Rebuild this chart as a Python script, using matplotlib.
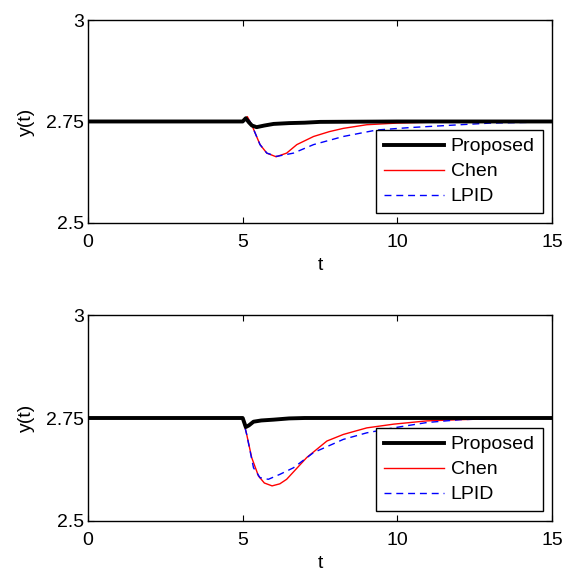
import matplotlib
matplotlib.use('Agg')
import matplotlib.pyplot as plt

plt.rcParams['font.family'] = ['Liberation Sans', 'DejaVu Sans']

# valores (t, y) - caso 1 (arriba)
t_prop_1 = [0, 5.0, 5.1, 5.2, 5.3, 5.45, 5.7, 6.0, 6.5, 7.0, 7.5, 10, 15]
y_prop_1 = [2.75, 2.75, 2.758, 2.748, 2.740, 2.736, 2.740, 2.744, 2.746, 2.747, 2.749, 2.75, 2.75]

t_chen_1 = [0, 5.0, 5.15, 5.29, 5.56, 5.78, 6.08, 6.42, 6.75, 7.29, 7.8, 8.25, 9.01, 9.98, 11.0, 12.6, 15]
y_chen_1 = [2.75, 2.75, 2.762, 2.742, 2.693, 2.672, 2.663, 2.672, 2.693, 2.713, 2.725, 2.733, 2.742, 2.746, 2.748, 2.75, 2.75]

t_lpid_1 = [0, 5.0, 5.15, 5.29, 5.56, 5.78, 6.1, 6.64, 7.29, 8.25, 9.33, 10.41, 12.03, 13.0, 15]
y_lpid_1 = [2.75, 2.75, 2.762, 2.742, 2.693, 2.672, 2.664, 2.672, 2.693, 2.713, 2.729, 2.735, 2.742, 2.746, 2.749]

# caso 2 (abajo)
t_prop_2 = [0, 5.0, 5.1, 5.2, 5.35, 5.6, 6.0, 6.5, 7.0, 15]
y_prop_2 = [2.75, 2.75, 2.728, 2.732, 2.741, 2.744, 2.746, 2.749, 2.75, 2.75]

t_chen_2 = [0, 5.0, 5.13, 5.29, 5.51, 5.7, 5.95, 6.2, 6.42, 7.07, 7.72, 8.25, 9.01, 9.87, 10.95, 12.03, 13.5, 15]
y_chen_2 = [2.75, 2.75, 2.710, 2.654, 2.609, 2.592, 2.585, 2.590, 2.601, 2.654, 2.694, 2.710, 2.726, 2.735, 2.743, 2.746, 2.749, 2.75]

t_lpid_2 = [0, 5.0, 5.13, 5.35, 5.56, 5.83, 6.2, 6.64, 7.29, 8.25, 9.01, 9.87, 10.95, 12.03, 13.5, 15]
y_lpid_2 = [2.75, 2.75, 2.710, 2.629, 2.605, 2.601, 2.613, 2.629, 2.666, 2.698, 2.714, 2.726, 2.739, 2.746, 2.749, 2.75]

casos = [
    (t_prop_1, y_prop_1, t_chen_1, y_chen_1, t_lpid_1, y_lpid_1),
    (t_prop_2, y_prop_2, t_chen_2, y_chen_2, t_lpid_2, y_lpid_2),
]

fig = plt.figure(figsize=(5.67, 5.73), dpi=100)
posiciones = [[0.155, 0.611, 0.819, 0.354], [0.155, 0.091, 0.819, 0.359]]

for pos, (tp, yp, tc, yc, tl, yl) in zip(posiciones, casos):
    ax = fig.add_axes(pos)
    ax.plot(tp, yp, color='black', lw=2.8, label='Proposed', zorder=3)
    ax.plot(tc, yc, color='red', lw=1.0, label='Chen', zorder=2)
    ax.plot(tl, yl, color='blue', lw=1.0, ls=(0, (5, 3.5)), label='LPID', zorder=2)
    ax.set_xlim(0, 15)
    ax.set_ylim(2.5, 3)
    ax.set_xticks([0, 5, 10, 15])
    ax.set_yticks([2.5, 2.75, 3])
    ax.set_yticklabels(['2.5', '2.75', '3'])
    ax.tick_params(direction='in', top=True, right=True, labelsize=14, length=4)
    ax.tick_params(axis='x', pad=8)
    ax.tick_params(axis='y', pad=3)
    ax.set_xlabel('t', fontsize=14, labelpad=4)
    ax.set_ylabel('y(t)', fontsize=14, labelpad=8)
    for s in ax.spines.values():
        s.set_linewidth(1.0)
    leg = ax.legend(loc='lower right', fontsize=14, handlelength=3.1, fancybox=False,
                    framealpha=1, edgecolor='black', borderaxespad=0.5,
                    labelspacing=0.38, borderpad=0.4, handletextpad=0.35)
    leg.get_frame().set_linewidth(1.0)

plt.savefig('out.png', dpi=100)
